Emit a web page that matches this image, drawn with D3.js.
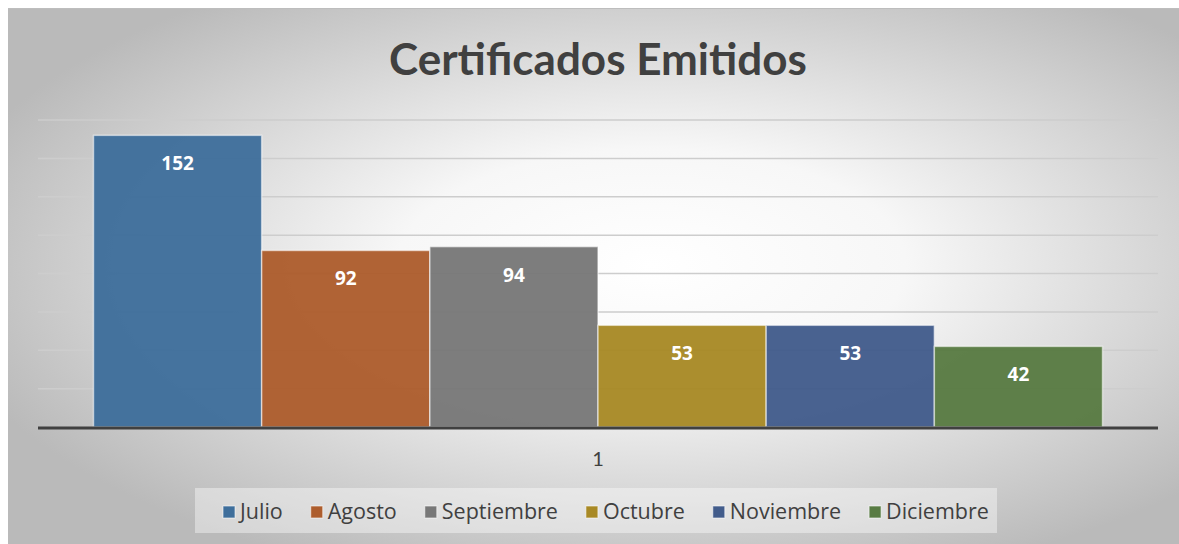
<!DOCTYPE html>
<html>
<head>
<meta charset="utf-8">
<script src="https://cdn.jsdelivr.net/npm/d3@7"></script>
<style>
  html,body{margin:0;padding:0;background:#fff;}
  svg{display:block;font-family:Lato,'Open Sans',sans-serif;}
</style>
</head>
<body>
<svg id="chart"></svg>
<script>
const TITLE = 'Certificados Emitidos';
const MONTHS = ['Julio','Agosto','Septiembre','Octubre','Noviembre','Diciembre'];
const VALUES = [152, 92, 94, 53, 53, 42];
const COLORS = ['#3e6e9b','#ad5d2d','#787878','#a88925','#425c8b','#587b43'];
const CATEGORY = '1';
const Y_TICKS = [20,40,60,80,100,120,140,160];

const W=1179, H=544;
const svg=d3.select('#chart').attr('width',W).attr('height',H);

// background with a soft radial highlight
const defs=svg.append('defs');
const rg=defs.append('radialGradient').attr('id','bg')
  .attr('cx','0.55').attr('cy','0.48').attr('r','0.62');
rg.append('stop').attr('offset','0').attr('stop-color','#ffffff');
rg.append('stop').attr('offset','0.35').attr('stop-color','#f7f7f7');
rg.append('stop').attr('offset','1').attr('stop-color','#bababa');

svg.append('rect').attr('x',8).attr('y',8).attr('width',W-8).attr('height',H-8)
  .attr('fill','url(#bg)');
svg.append('line').attr('x1',8).attr('x2',W).attr('y1',8.5).attr('y2',8.5)
  .attr('stroke','#bdbdbd').attr('stroke-width',1);

const plot={left:38,right:1158,top:120,bottom:427};

const x=d3.scaleBand().domain(MONTHS).range([plot.left,plot.right])
  .paddingInner(0).paddingOuter(0.33);
const y=d3.scaleLinear().domain([0,160]).range([plot.bottom,plot.top]);

// gridlines
svg.append('g').selectAll('line').data(Y_TICKS).join('line')
  .attr('x1',plot.left).attr('x2',plot.right)
  .attr('y1',d=>y(d)).attr('y2',d=>y(d))
  .attr('stroke','#cdcdcd').attr('stroke-width',1.5);

// bars
svg.append('g').selectAll('rect').data(MONTHS).join('rect')
  .attr('x',d=>x(d)).attr('width',x.bandwidth())
  .attr('y',(d,i)=>y(VALUES[i])).attr('height',(d,i)=>plot.bottom-y(VALUES[i]))
  .attr('fill',(d,i)=>COLORS[i]).attr('fill-opacity',0.96)
  .attr('stroke','rgba(255,255,255,0.55)').attr('stroke-width',1.5);

// data labels
svg.append('g').selectAll('text').data(MONTHS).join('text')
  .attr('x',d=>x(d)+x.bandwidth()/2)
  .attr('y',(d,i)=>y(VALUES[i])+35)
  .attr('text-anchor','middle').attr('fill','#fff')
  .attr('font-family',"'Open Sans',sans-serif")
  .attr('font-size',19).attr('font-weight',700)
  .text((d,i)=>VALUES[i]);

// baseline
svg.append('line').attr('x1',plot.left).attr('x2',plot.right)
  .attr('y1',plot.bottom+1).attr('y2',plot.bottom+1)
  .attr('stroke','#404040').attr('stroke-width',3);

// category label
svg.append('text').attr('x',(plot.left+plot.right)/2).attr('y',466)
  .attr('text-anchor','middle').attr('fill','#404040').attr('font-size',20)
  .text(CATEGORY);

// title
svg.append('text').attr('x',598).attr('y',75).attr('text-anchor','middle')
  .attr('fill','#404040').attr('font-size',44).attr('font-weight',700)
  .text(TITLE);

// legend
const lg=svg.append('g');
lg.append('rect').attr('x',195).attr('y',488).attr('width',802).attr('height',45)
  .attr('fill','rgba(255,255,255,0.4)');
const items=lg.selectAll('g').data(MONTHS).join('g');
items.append('rect').attr('width',12).attr('height',12).attr('y',506)
  .attr('fill',(d,i)=>COLORS[i]).attr('stroke','rgba(255,255,255,0.6)').attr('stroke-width',1);
items.append('text').attr('y',519).attr('font-size',21.5).attr('fill','#404040')
  .attr('font-family',"'Open Sans',sans-serif")
  .text(d=>d);
let lx=223;
items.each(function(){
  const g=d3.select(this);
  g.select('rect').attr('x',lx);
  const t=g.select('text').attr('x',lx+17);
  lx+=17+t.node().getComputedTextLength()+28;
});
</script>
</body>
</html>
